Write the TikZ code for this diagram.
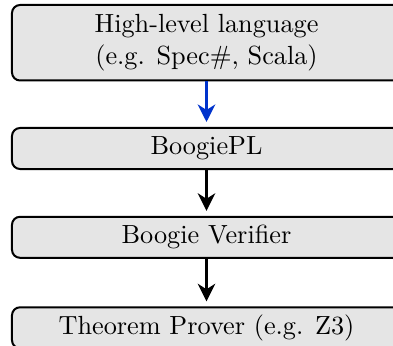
\documentclass[tikz,border=0pt]{standalone}
\usetikzlibrary{arrows.meta}
\definecolor{arrowblue}{RGB}{0,51,204}
\begin{document}
\begin{tikzpicture}[x=0.4pt,y=-0.4pt,
  stage/.style={draw=black, line width=0.8pt, fill=gray!20, rounded corners=3.2pt,
    minimum width=155.6pt, minimum height=16.4pt, inner sep=0pt, align=center,
    font=\fontsize{10.5}{12.8}\selectfont},
  flow/.style={line width=1.3pt, shorten >=2pt,
    -{Stealth[length=7pt,width=7pt,inset=2.2pt]}}]
\useasboundingbox (0,0) rectangle (393,346);
\clip (0,0) rectangle (393,346);
\node[stage, minimum height=30.2pt] (hl) at (206.5,42.75) {High-level language\\(e.g. Spec\#, Scala)};
\node[stage] (bpl) at (206.5,148.5) {BoogiePL};
\node[stage] (bv) at (206.5,237.3) {Boogie Verifier};
\node[stage] (tp) at (206.5,327.8) {Theorem Prover (e.g. Z3)};
\draw[flow, draw=arrowblue, fill=arrowblue] (hl) -- (bpl);
\draw[flow] (bpl) -- (bv);
\draw[flow] (bv) -- (tp);
\end{tikzpicture}
\end{document}
